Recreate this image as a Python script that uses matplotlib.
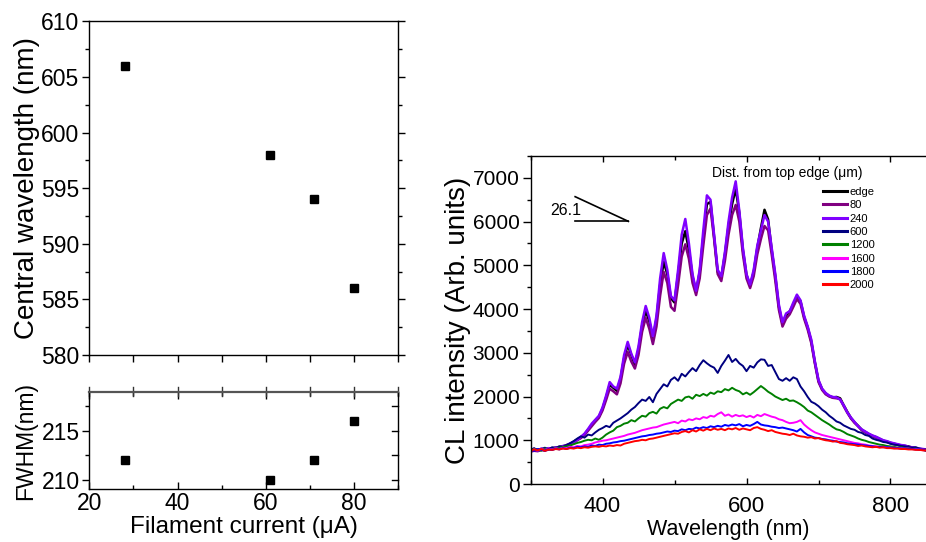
import numpy as np
import matplotlib
matplotlib.use("Agg")
import matplotlib.pyplot as plt
from matplotlib.ticker import MultipleLocator

plt.rcParams['font.family'] = ['Liberation Sans', 'DejaVu Sans']
plt.rcParams['mathtext.default'] = 'regular'

# ---- left panel data: peak position and width vs filament current ----
current_uA = [28, 61, 71, 80]
central_nm = [606, 598, 594, 586]
fwhm_nm = [212, 210, 212, 216]

# ---- right panel data: CL spectra, 5 nm sampling 300..850 nm ----
wavelength_nm = np.arange(300, 851, 5)

spec_edge = [
    760, 790, 780, 800, 770, 810, 820, 830, 850, 860,
    890, 920, 970, 1020, 1060, 1140, 1240, 1350, 1450, 1540,
    1720, 1980, 2270, 2200, 2130, 2400, 2880, 3180, 2950, 2720,
    3080, 3620, 3960, 3720, 3330, 3780, 4550, 5080, 4800, 4250,
    4150, 4800, 5500, 5780, 5350, 4750, 4400, 4850, 5650, 6400,
    6450, 5650, 4850, 4720, 5250, 5900, 6400, 6750, 6200, 5350,
    4780, 4540, 4850, 5400, 5850, 6270, 6050, 5350, 4750, 4050,
    3660, 3850, 3950, 4100, 4280, 4180, 3820, 3580, 3260, 2780,
    2360, 2170, 2070, 2010, 1980, 1990, 1960, 1800, 1650, 1510,
    1410, 1330, 1240, 1190, 1140, 1100, 1070, 1030, 990, 970,
    940, 920, 900, 880, 870, 860, 830, 820, 800, 790,
    770]
spec_80 = [
    740, 760, 750, 780, 760, 790, 790, 810, 830, 850,
    870, 900, 950, 1000, 1050, 1120, 1220, 1320, 1420, 1510,
    1680, 1920, 2180, 2120, 2050, 2300, 2750, 3020, 2800, 2640,
    2950, 3480, 3800, 3550, 3200, 3600, 4300, 4850, 4600, 4050,
    3960, 4550, 5200, 5480, 5150, 4600, 4320, 4700, 5450, 6150,
    6300, 5600, 4800, 4640, 5100, 5700, 6150, 6380, 6000, 5250,
    4700, 4480, 4750, 5250, 5600, 5900, 5800, 5250, 4650, 3980,
    3600, 3780, 3880, 4050, 4230, 4120, 3780, 3530, 3220, 2750,
    2330, 2150, 2050, 2000, 1970, 1960, 1940, 1780, 1630, 1500,
    1400, 1320, 1230, 1180, 1130, 1090, 1060, 1020, 980, 960,
    930, 910, 890, 870, 860, 840, 820, 810, 790, 780,
    760]
spec_240 = [
    770, 800, 760, 810, 790, 820, 800, 840, 830, 870,
    880, 930, 960, 1010, 1080, 1150, 1260, 1380, 1470, 1560,
    1750, 2020, 2330, 2230, 2180, 2450, 2950, 3250, 2980, 2780,
    3150, 3700, 4070, 3800, 3380, 3850, 4700, 5280, 4900, 4300,
    4200, 4900, 5700, 6060, 5500, 4800, 4420, 4900, 5800, 6600,
    6500, 5700, 4900, 4750, 5300, 6000, 6550, 6920, 6250, 5400,
    4800, 4560, 4900, 5450, 5800, 6150, 6000, 5400, 4800, 4100,
    3700, 3900, 3950, 4150, 4330, 4200, 3850, 3600, 3300, 2800,
    2380, 2180, 2080, 2020, 1990, 1980, 1930, 1800, 1640, 1520,
    1420, 1320, 1250, 1200, 1150, 1110, 1080, 1040, 1000, 980,
    950, 930, 910, 890, 880, 850, 840, 830, 810, 800,
    790]
spec_600 = [
    780, 820, 770, 800, 830, 790, 840, 820, 860, 850,
    890, 930, 980, 1040, 1090, 1060, 1130, 1110, 1180, 1240,
    1280, 1330, 1300, 1400, 1450, 1500, 1560, 1620, 1700, 1760,
    1850, 1930, 1900, 1990, 1870, 2060, 2170, 2280, 2230, 2380,
    2440, 2360, 2520, 2460, 2560, 2650, 2580, 2720, 2830, 2760,
    2700, 2660, 2540, 2700, 2820, 2950, 2790, 2860, 2760, 2700,
    2580, 2700, 2660, 2780, 2850, 2840, 2700, 2720, 2560, 2400,
    2360, 2420, 2360, 2440, 2400, 2230, 2120, 1990, 1880, 1840,
    1780, 1700, 1640, 1560, 1500, 1430, 1400, 1340, 1300, 1260,
    1240, 1190, 1170, 1120, 1100, 1040, 1010, 990, 960, 950,
    920, 900, 890, 870, 860, 850, 830, 840, 810, 800,
    790]
spec_1200 = [
    770, 800, 780, 760, 810, 800, 790, 830, 820, 850,
    860, 880, 910, 940, 960, 990, 1010, 1000, 1040, 1010,
    1060, 1130, 1180, 1220, 1300, 1330, 1380, 1400, 1460, 1430,
    1500, 1560, 1540, 1620, 1650, 1610, 1720, 1760, 1730, 1830,
    1880, 1930, 1900, 1980, 2000, 1950, 2040, 2010, 2060, 2020,
    2090, 2060, 2120, 2100, 2170, 2140, 2200, 2150, 2120, 2050,
    2090, 2040, 2100, 2170, 2240, 2180, 2110, 2060, 2000, 1960,
    1920, 1950, 1900, 1910, 1870, 1820, 1760, 1680, 1640, 1580,
    1520, 1460, 1410, 1360, 1300, 1250, 1230, 1190, 1140, 1110,
    1080, 1040, 1010, 990, 960, 940, 920, 900, 890, 870,
    860, 850, 830, 840, 820, 810, 800, 810, 790, 780,
    770]
spec_1600 = [
    760, 790, 770, 800, 780, 810, 790, 820, 800, 830,
    820, 850, 840, 870, 860, 890, 900, 920, 950, 970,
    990, 1000, 1020, 1040, 1060, 1080, 1100, 1130, 1150, 1170,
    1200, 1230, 1250, 1270, 1290, 1300, 1330, 1360, 1380, 1400,
    1420, 1390, 1450, 1430, 1480, 1460, 1500, 1480, 1530, 1510,
    1560, 1540, 1600, 1640, 1560, 1590, 1540, 1580, 1550, 1570,
    1530, 1560, 1520, 1580, 1550, 1600, 1570, 1540, 1520, 1480,
    1460, 1420, 1390, 1400, 1420, 1460, 1360, 1290, 1230, 1180,
    1150, 1120, 1100, 1080, 1060, 1040, 1020, 1000, 980, 960,
    940, 930, 910, 900, 880, 870, 860, 850, 850, 840,
    830, 830, 820, 820, 810, 810, 800, 800, 790, 790,
    780]
spec_1800 = [
    790, 760, 800, 780, 770, 800, 780, 810, 790, 820,
    800, 830, 820, 850, 840, 860, 850, 880, 870, 900,
    890, 920, 930, 950, 960, 980, 990, 1010, 1030, 1050,
    1070, 1090, 1100, 1120, 1130, 1150, 1160, 1180, 1200, 1190,
    1220, 1210, 1250, 1230, 1260, 1250, 1290, 1270, 1300, 1280,
    1320, 1300, 1330, 1310, 1350, 1330, 1360, 1340, 1370, 1320,
    1350, 1330, 1370, 1420, 1360, 1340, 1330, 1310, 1300, 1280,
    1290, 1270, 1250, 1230, 1200, 1260, 1180, 1120, 1090, 1060,
    1050, 1030, 1020, 1000, 990, 970, 960, 950, 930, 920,
    910, 900, 890, 880, 870, 860, 850, 850, 840, 840,
    830, 820, 820, 810, 810, 800, 800, 790, 790, 780,
    780]
spec_2000 = [
    760, 790, 770, 800, 760, 790, 780, 800, 790, 810,
    800, 820, 810, 830, 820, 840, 830, 850, 860, 850,
    870, 860, 880, 870, 890, 880, 920, 940, 960, 980,
    990, 1010, 1000, 1030, 1040, 1060, 1080, 1100, 1120, 1140,
    1160, 1150, 1190, 1210, 1180, 1230, 1200, 1250, 1220, 1260,
    1230, 1270, 1240, 1260, 1230, 1270, 1250, 1280, 1240, 1270,
    1250, 1230, 1280, 1300, 1260, 1240, 1210, 1230, 1190, 1170,
    1150, 1140, 1120, 1150, 1110, 1090, 1080, 1060, 1070, 1040,
    1050, 1020, 1000, 990, 970, 980, 940, 930, 910, 900,
    890, 870, 880, 860, 850, 840, 850, 830, 840, 820,
    820, 810, 810, 800, 800, 790, 790, 780, 780, 770,
    770]

series_labels = ["edge", "80", "240", "600", "1200", "1600", "1800", "2000"]
series_values = [spec_edge, spec_80, spec_240, spec_600,
                 spec_1200, spec_1600, spec_1800, spec_2000]
series_colors = ["#000000", "#800080", "#8000FF", "#000080",
                 "#008000", "#FF00FF", "#0000FF", "#FF0000"]
series_widths = [1.8, 1.8, 1.8, 1.4, 1.4, 1.4, 1.4, 1.4]

# slope marker drawn in the upper-left of the spectrum panel
slope_label = "26.1"
slope_x = [362, 436]
slope_y = [6570, 6005]

TICK_L = 16.5   # left panel tick labels
TICK_R = 15     # right panel tick labels
YLAB = 20       # long vertical axis titles

fig = plt.figure(figsize=(9.26, 5.42), dpi=100)
W, H = 926.0, 542.0


def px_axes(x0, y0, x1, y1):
    return fig.add_axes([x0 / W, 1 - y1 / H, (x1 - x0) / W, (y1 - y0) / H])


# ---- central wavelength ----
ax1 = px_axes(89.3, 21.4, 398.3, 355)
ax1.plot(current_uA, central_nm, 's', color='black', ms=6.2)
ax1.set_xlim(20, 90)
ax1.set_ylim(580, 610)
ax1.xaxis.set_major_locator(MultipleLocator(20))
ax1.xaxis.set_minor_locator(MultipleLocator(10))
ax1.yaxis.set_major_locator(MultipleLocator(5))
ax1.yaxis.set_minor_locator(MultipleLocator(2.5))
ax1.tick_params(axis='x', which='both', direction='out', labelbottom=False,
                top=False, length=5, width=1)
ax1.tick_params(axis='y', which='major', direction='out', left=True, right=True,
                length=5, width=1, labelsize=TICK_L, pad=2)
ax1.tick_params(axis='y', which='minor', direction='out', left=True, right=True,
                length=3, width=1)
ax1.set_ylabel("Central wavelength (nm)", fontsize=YLAB, labelpad=1)

# ---- FWHM ----
ax2 = px_axes(89.3, 391.7, 398.3, 489.3)
ax2.plot(current_uA, fwhm_nm, 's', color='black', ms=6.2)
ax2.set_xlim(20, 90)
ax2.set_ylim(209, 219)
ax2.xaxis.set_major_locator(MultipleLocator(20))
ax2.xaxis.set_minor_locator(MultipleLocator(10))
ax2.yaxis.set_major_locator(MultipleLocator(5))
ax2.yaxis.set_minor_locator(MultipleLocator(2.5))
ax2.tick_params(axis='x', which='major', direction='in', top=True, bottom=True,
                length=5, width=1, labelsize=TICK_L, pad=2)
ax2.tick_params(axis='x', which='minor', direction='in', top=True, bottom=True,
                length=3, width=1)
ax2.tick_params(axis='y', which='major', direction='out', left=True, right=False,
                length=5, width=1, labelsize=TICK_L, pad=2)
ax2.tick_params(axis='y', which='minor', direction='out', left=True, right=False,
                length=3, width=1)
ax2.spines['top'].set_color('#555555')
ax2.spines['top'].set_linewidth(1.6)
# ticks crossing the top spine, and inward ticks on the right spine
for xv in [20, 30, 40, 50, 60, 70, 80, 90]:
    ax2.plot([xv, xv], [218.55, 219.45], color='#333333', lw=1,
             clip_on=False)
for yv in [210, 212.5, 215, 217.5]:
    ax2.plot([88.6, 90], [yv, yv], color='black', lw=1, clip_on=False)
ax2.set_ylabel("FWHM(nm)", fontsize=16.5, labelpad=3)
ax2.set_xlabel("Filament current (\u03bcA)", fontsize=17.5, labelpad=1)

# ---- CL spectra ----
ax3 = px_axes(530.5, 156, 926.5, 484)
for lab, vals, col, lw in zip(series_labels, series_values, series_colors,
                              series_widths):
    ax3.plot(wavelength_nm, vals, color=col, lw=lw, label=lab)
ax3.set_xlim(300, 850)
ax3.set_ylim(0, 7500)
ax3.xaxis.set_major_locator(MultipleLocator(200))
ax3.xaxis.set_minor_locator(MultipleLocator(100))
ax3.yaxis.set_major_locator(MultipleLocator(1000))
ax3.yaxis.set_minor_locator(MultipleLocator(500))
ax3.tick_params(axis='x', which='major', direction='in', top=True, bottom=True,
                length=4, width=1, labelsize=TICK_R + 1, pad=9)
ax3.tick_params(axis='x', which='minor', direction='in', top=True, bottom=True,
                length=3, width=1)
ax3.tick_params(axis='y', which='major', direction='out', length=6, width=1,
                labelsize=TICK_R, pad=2)
ax3.tick_params(axis='y', which='minor', direction='out', length=3, width=1)
ax3.spines['right'].set_visible(False)
ax3.set_xlabel("Wavelength (nm)", fontsize=15.5, labelpad=1)
ax3.set_ylabel("CL intensity (Arb. units)", fontsize=YLAB, labelpad=1)

ax3.plot(slope_x, slope_y, color='black', lw=1.2)
ax3.plot(slope_x, [slope_y[1], slope_y[1]], color='black', lw=1.2)
ax3.text(371, 6260, slope_label, fontsize=11.5, ha='right', va='center')

ax3.text(787 / W, 1 - 173 / H, "Dist. from top edge (\u03bcm)",
         transform=fig.transFigure, fontsize=10, ha='center', va='center')
leg = ax3.legend(loc='upper left', bbox_to_anchor=(823 / W, 1 - 187 / H),
                 bbox_transform=fig.transFigure, frameon=False, fontsize=8,
                 handlelength=2.2, handletextpad=0.2, labelspacing=0.3,
                 borderpad=0, borderaxespad=0)
for line in leg.get_lines():
    line.set_linewidth(2.2)

for ax in (ax1, ax2, ax3):
    for name, sp in ax.spines.items():
        if not (ax is ax2 and name == 'top'):
            sp.set_linewidth(1.0)

fig.savefig("out.png", dpi=100)
